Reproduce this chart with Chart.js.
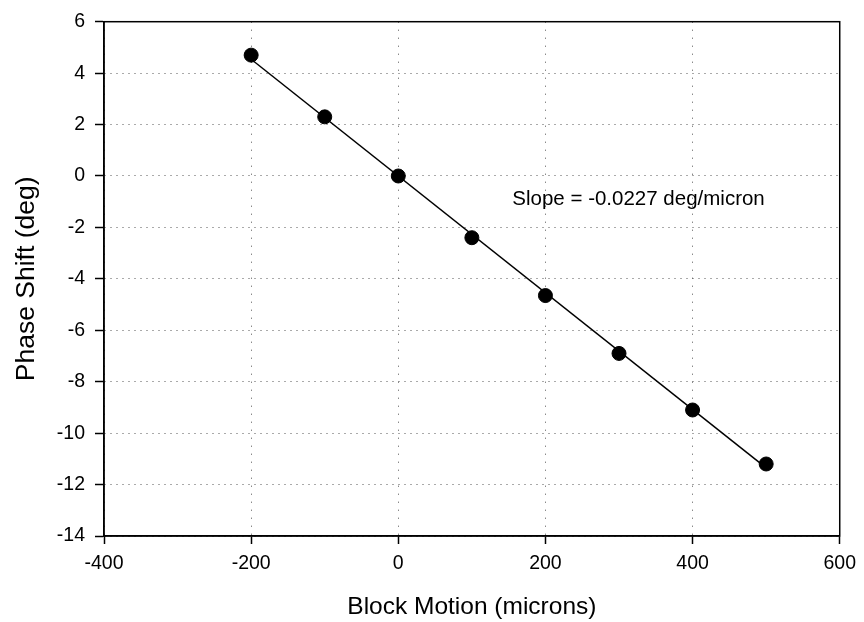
<!DOCTYPE html>
<html>
<head>
<meta charset="utf-8">
<script src="https://cdn.jsdelivr.net/npm/chart.js@4"></script>
<style>
  body { margin: 0; background: #fff; }
  canvas { display: block; }
</style>
</head>
<body>
<canvas id="grafico" width="864" height="622"></canvas>
<script>
// datos
const movimiento = [-200, -100, 0, 100, 200, 300, 400, 500];
const fase = [4.7, 2.3, 0.0, -2.4, -4.65, -6.9, -9.1, -11.2];
// recta de ajuste (pendiente -0.0227 deg/micron)
const ajusteX = [-200, 500];
const ajusteY = [4.54, -11.35];
const textoPendiente = "Slope = -0.0227 deg/micron";
const posTexto = [155, -0.9];

const fuente = "Arial, 'Liberation Sans', sans-serif";

const marco = {
  id: "marco",
  afterDatasetsDraw(chart) {
    const { ctx, chartArea: a, scales } = chart;
    ctx.save();
    ctx.strokeStyle = "#000";
    ctx.lineWidth = 1.5;
    ctx.strokeRect(a.left, a.top, a.right - a.left, a.bottom - a.top);
    ctx.fillStyle = "#000";
    ctx.font = "20.5px " + fuente;
    ctx.textAlign = "left";
    ctx.textBaseline = "middle";
    ctx.fillText(textoPendiente, scales.x.getPixelForValue(posTexto[0]), scales.y.getPixelForValue(posTexto[1]));
    ctx.restore();
  },
};

const ejeX = {
  type: "linear",
  min: -400,
  max: 600,
  ticks: { stepSize: 200, color: "#000", font: { size: 19.5, family: fuente }, padding: 8 },
  grid: { color: "#555", lineWidth: 1, tickColor: "#000", tickLength: 8, tickWidth: 1.5, tickBorderDash: [] },
  border: { display: true, color: "#000", width: 1.5, dash: [1, 7] },
  title: { display: true, text: "Block Motion (microns)", color: "#000", font: { size: 24.5, family: fuente }, padding: { top: 0, bottom: 0 } },
  afterFit(s) { s.height = 86; },
};

const ejeY = {
  type: "linear",
  min: -14,
  max: 6,
  ticks: { stepSize: 2, color: "#000", font: { size: 19.5, family: fuente }, padding: 10 },
  grid: { color: "#555", lineWidth: 1, tickColor: "#000", tickLength: 9, tickWidth: 1.5, tickBorderDash: [] },
  border: { display: true, color: "#000", width: 1.5, dash: [1, 5] },
  title: { display: true, text: "Phase Shift (deg)", color: "#000", font: { size: 26.5, family: fuente }, padding: { top: 11, bottom: 0 } },
  afterFit(s) { s.width = 104; },
};

new Chart(document.getElementById("grafico"), {
  type: "scatter",
  data: {
    datasets: [
      {
        label: "Ajuste",
        data: ajusteX.map((x, i) => ({ x: x, y: ajusteY[i] })),
        showLine: true,
        borderColor: "#000",
        borderWidth: 1.5,
        pointRadius: 0,
      },
      {
        label: "Datos",
        data: movimiento.map((x, i) => ({ x: x, y: fase[i] })),
        backgroundColor: "#000",
        borderColor: "#000",
        pointRadius: 7,
      },
    ],
  },
  options: {
    responsive: false,
    animation: false,
    layout: { padding: { top: 20, right: 23, left: 0, bottom: 0 } },
    plugins: { legend: { display: false }, tooltip: { enabled: false } },
    scales: { x: ejeX, y: ejeY },
  },
  plugins: [marco],
});
</script>
</body>
</html>
